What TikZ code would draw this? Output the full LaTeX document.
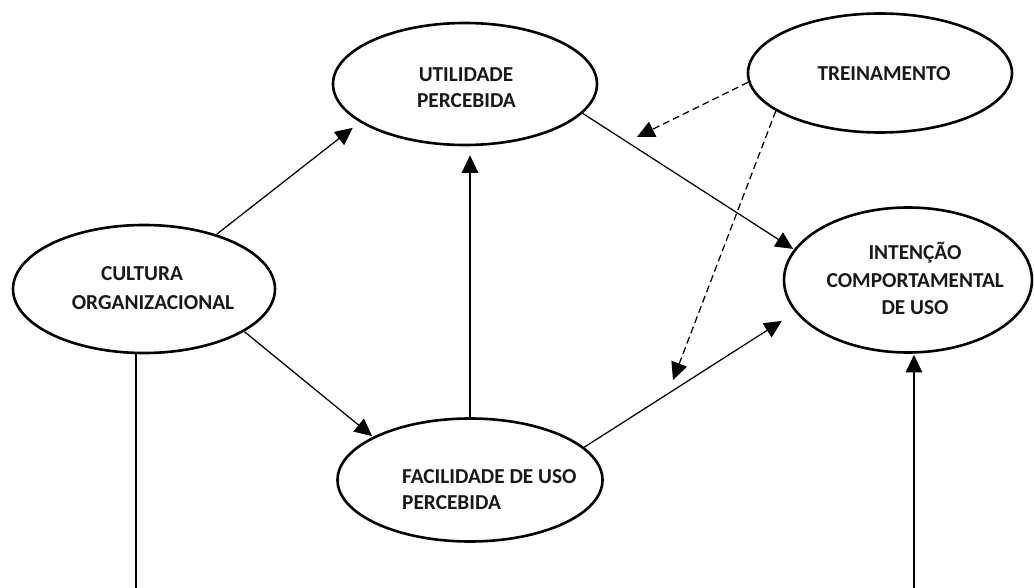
\documentclass[tikz,border=0pt]{standalone}
\usepackage{fontspec}
\setmainfont{Carlito}
\usetikzlibrary{shapes.geometric,arrows.meta}
\begin{document}
\begin{tikzpicture}[x=1pt,y=-1pt,
  oval/.style={ellipse, draw, line width=2.6pt, inner sep=0pt},
  lbl/.style={font=\fontsize{21.3}{25}\selectfont\bfseries, text=black!90, inner sep=0pt, anchor=base},
  conn/.style={line width=1.25pt, -{Triangle[length=17.5pt,width=16.5pt]}},
  dashconn/.style={conn, dash pattern=on 7pt off 4pt}]
\useasboundingbox[fill=white] (0,0) rectangle (1034,588);

% ellipses
\node[oval, minimum width=262pt, minimum height=128pt] (cu) at (144,289) {};
\node[oval, minimum width=264pt, minimum height=122pt] (ut) at (465,84) {};
\node[oval, minimum width=264pt, minimum height=119pt] (tr) at (880,73) {};
\node[oval, minimum width=248pt, minimum height=145pt] (in) at (908,280) {};
\node[oval, minimum width=265pt, minimum height=123pt] (fa) at (470,480) {};

% labels
\node[lbl] (cu1) at (142,280.7) {CULTURA};
\node[lbl] (cu2) at (153,309.3) {ORGANIZACIONAL};
\node[lbl] (ut1) at (466,81.7) {UTILIDADE};
\node[lbl] (ut2) at (466.5,107.3) {PERCEBIDA};
\node[lbl] (tr1) at (884,80.7) {TREINAMENTO};
\node[lbl] (in1) at (915,259.3) {INTENÇÃO};
\node[lbl] (in2) at (915.3,287.7) {COMPORTAMENTAL};
\node[lbl] (in3) at (915,315) {DE USO};
\node[lbl, anchor=base west] (fa1) at (402,483.3) {FACILIDADE DE USO};
\node[lbl, anchor=base west] (fa2) at (402,509.3) {PERCEBIDA};

% free ends
\coordinate (d1) at (637,137);
\coordinate (d2) at (673,380);
\coordinate (cb) at (136,588);
\coordinate (ib) at (914,588);

% connectors
\draw[conn, shorten >=9pt] (cu.37.5) -- (ut.200.9);
\draw[conn, shorten >=1pt] (cu.-23.5) -- (fa.156);
\draw[conn, shorten >=9pt] (fa.north) -- (fa.north |- ut.south);
\draw[conn, shorten >=1pt] (ut.-14.7) -- (in.165.5);
\draw[conn, shorten >=16pt] (fa.16.8) -- (in.196);
\draw[dashconn] (tr.184) -- (d1);
\draw[dashconn] (tr.200) -- (d2);
\draw[line width=1.25pt] (cu.south -| cb) -- (cb);
\draw[conn, shorten >=1pt] (ib) -- (ib |- in.south);
\end{tikzpicture}
\end{document}
